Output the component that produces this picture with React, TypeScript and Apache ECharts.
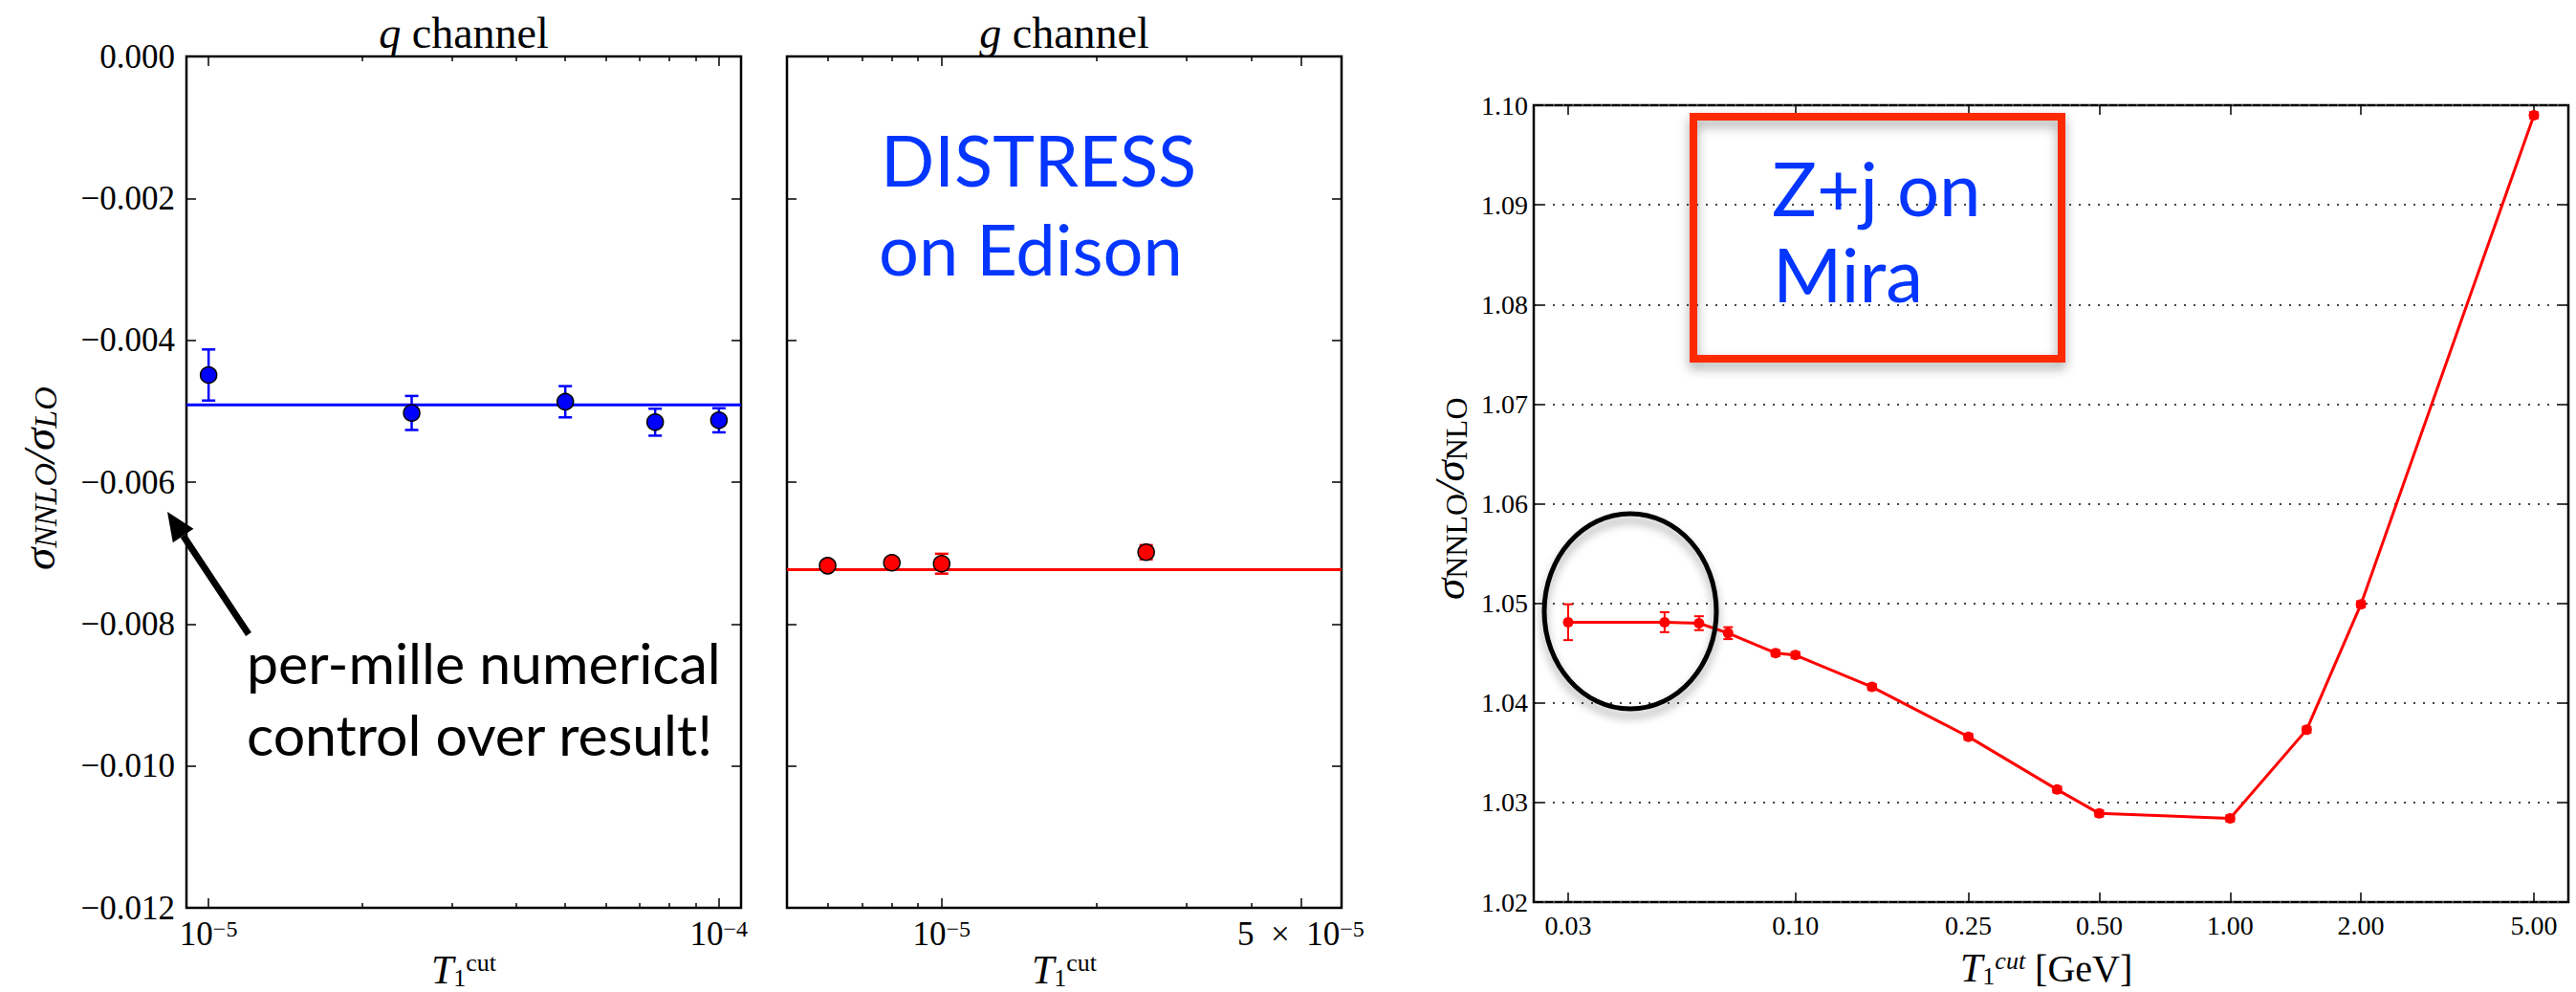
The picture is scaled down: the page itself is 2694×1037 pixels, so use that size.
import React, { useEffect, useRef } from "react";
import * as echarts from "echarts";

// ---------------- data ----------------
// q channel (DISTRESS)
const qCut = [1e-5, 2.5e-5, 5e-5, 7.5e-5, 1e-4];
const qRatio = [-0.00449, -0.005025, -0.004867, -0.005155, -0.005128];
const qError = [0.00036, 0.00024, 0.00022, 0.00019, 0.00017];
const qFit = -0.004912;

// g channel (DISTRESS)
const gCut = [6e-6, 8e-6, 1e-5, 2.5e-5];
const gRatio = [-0.007178, -0.007136, -0.00715, -0.006988];
const gError = [0.00003, 0.00004, 0.00014, 0.0001];
const gFit = -0.007233;

// Z+j on Mira
const zjCut = [0.03, 0.05, 0.06, 0.07, 0.09, 0.1, 0.15, 0.25, 0.4, 0.5, 1.0, 1.5, 2.0, 5.0];
const zjRatio = [1.0481, 1.0481, 1.048, 1.047, 1.045, 1.0448, 1.0416, 1.0366, 1.0313, 1.0289, 1.0284, 1.0373, 1.0499, 1.099];
const zjError = [0.0018, 0.001, 0.0007, 0.0006, 0.0003, 0.0003, 0.0003, 0.0003, 0.0003, 0.0003, 0.0003, 0.0003, 0.0003, 0.0003];

// ticks and ranges
const qXTicks = [1e-5, 1e-4];
const qXMinor = [2e-5, 3e-5, 4e-5, 5e-5, 6e-5, 7e-5, 8e-5, 9e-5];
const gXTicks = [1e-5, 5e-5];
const gXMinor = [6e-6, 7e-6, 8e-6, 9e-6, 2e-5, 3e-5, 4e-5];
const zjXTicks = [0.03, 0.1, 0.25, 0.5, 1, 2, 5];

const qXRange = [9.05e-6, 1.105e-4];
const gXRange = [5e-6, 6e-5];
const zjXRange = [0.025, 6];
const chYRange = [-0.012, 0];
const chYStep = 0.002;
const zjYRange = [1.02, 1.1];
const zjYStep = 0.01;

const L = (v: number) => Math.log10(v);
const SERIF = "'Liberation Serif', 'Times New Roman', serif";
const SANS = "Lato, 'Open Sans', sans-serif";
const BLUE_TXT = "#0436ff";

const supRich = {
  b: { fontSize: 35, fontFamily: SERIF, color: "#000" },
  s: { fontSize: 24, fontFamily: SERIF, color: "#000", verticalAlign: "top" },
};

const powLabel = (v: number) => {
  const exp = Math.floor(v + 1e-9);
  const mant = Math.round(Math.pow(10, v - exp));
  const e = "\u2212" + String(-exp);
  return mant === 1 ? `{b|10}{s|${e}}` : `{b|${mant}\u2002\u00d7\u200210}{s|${e}}`;
};

const tauName = "{t|T}{sub|1}{sup|cut}";
const tauRich = {
  t: { fontSize: 42, fontStyle: "italic", fontFamily: SERIF, color: "#000", fill: "#000" },
  sub: { fontSize: 26, fontFamily: SERIF, color: "#000", fill: "#000", verticalAlign: "bottom" },
  sup: { fontSize: 26, fontFamily: SERIF, color: "#000", fill: "#000", verticalAlign: "top" },
  it: { fontSize: 26, fontStyle: "italic", fontFamily: SERIF, color: "#000", fill: "#000", verticalAlign: "top" },
  g: { fontSize: 40, fontFamily: SERIF, color: "#000", fill: "#000" },
};

function xAxisDef(
  gridIndex: number,
  range: number[],
  position: string,
  ticks: number[],
  tickLen: number,
  labels?: { formatter: (v: number) => string; rich: any; size?: number; margin?: number },
  name?: { text: string; gap: number; rich: any }
) {
  return {
    type: "value",
    gridIndex,
    position,
    min: L(range[0]),
    max: L(range[1]),
    axisLine: { show: false, onZero: false },
    splitLine: { show: false },
    axisTick: {
      show: true,
      inside: true,
      length: tickLen,
      customValues: ticks.map(L),
      lineStyle: { color: "#000", width: 1.5 },
    },
    axisLabel: labels
      ? {
          show: true,
          customValues: ticks.map(L),
          formatter: labels.formatter,
          rich: labels.rich,
          margin: labels.margin || 10,
          color: "#000",
          fontFamily: SERIF,
          fontSize: labels.size || 35,
        }
      : { show: false },
    name: name ? name.text : "",
    nameLocation: "middle",
    nameGap: name ? name.gap : 0,
    nameMoveOverlap: false,
    nameTextStyle: name ? { rich: name.rich, color: "#000" } : {},
  };
}

function yAxisDef(
  gridIndex: number,
  range: number[],
  step: number,
  position: string,
  opts: { labels?: (v: number) => string; size?: number; split?: boolean; margin?: number }
) {
  return {
    type: "value",
    gridIndex,
    position,
    min: range[0],
    max: range[1],
    interval: step,
    axisLine: { show: false, onZero: false },
    axisTick: { show: true, inside: true, length: 10, lineStyle: { color: "#000", width: 1.5 } },
    splitLine: opts.split
      ? { show: true, lineStyle: { color: "#444", width: 2, type: [2, 8] } }
      : { show: false },
    axisLabel: opts.labels
      ? {
          show: true,
          formatter: opts.labels,
          color: "#000",
          fontFamily: SERIF,
          fontSize: opts.size || 35,
          margin: opts.margin || 12,
        }
      : { show: false },
  };
}

const errRender = (color: string, half: number, width: number) => (params: any, api: any) => {
  const x = api.value(0);
  const y = api.value(1);
  const e = api.value(2);
  const top = api.coord([x, y + e]);
  const bot = api.coord([x, y - e]);
  const st = { stroke: color, lineWidth: width };
  return {
    type: "group",
    children: [
      { type: "line", shape: { x1: top[0], y1: top[1], x2: bot[0], y2: bot[1] }, style: st },
      { type: "line", shape: { x1: top[0] - half, y1: top[1], x2: top[0] + half, y2: top[1] }, style: st },
      { type: "line", shape: { x1: bot[0] - half, y1: bot[1], x2: bot[0] + half, y2: bot[1] }, style: st },
    ],
  };
};

const sigmaRich = (italicSub: boolean, big: number, small: number) => ({
  s: { fontSize: big, fontStyle: "italic", fontFamily: SERIF, fill: "#000" },
  sub: {
    fontSize: small,
    fontStyle: italicSub ? "italic" : "normal",
    fontFamily: SERIF,
    fill: "#000",
    verticalAlign: "bottom",
  },
});

const fitLine = (xAxisIndex: number, yAxisIndex: number, range: number[], value: number, color: string) => ({
  type: "line",
  xAxisIndex,
  yAxisIndex,
  z: 2,
  symbol: "none",
  silent: true,
  lineStyle: { color, width: 3 },
  data: [
    [L(range[0]), value],
    [L(range[1]), value],
  ],
});

function buildOption() {
  const gridBase = {
    show: true,
    borderColor: "#000",
    borderWidth: 2.5,
    backgroundColor: "transparent",
    containLabel: false,
    outerBoundsMode: "none",
  };
  const chLabel = (v: number) => {
    const s = Math.abs(v).toFixed(3);
    return v < -1e-12 ? "\u2212" + s : s;
  };

  const arrowTip = [175, 535];
  const arrowTail = [260, 663];
  const dx = arrowTip[0] - arrowTail[0];
  const dy = arrowTip[1] - arrowTail[1];
  const len = Math.sqrt(dx * dx + dy * dy);
  const ux = dx / len;
  const uy = dy / len;
  const headLen = 30;
  const headHalf = 13;
  const bx = arrowTip[0] - headLen * ux;
  const by = arrowTip[1] - headLen * uy;

  const title = (x: number, letter: string) => ({
    type: "text",
    x,
    y: 57,
    z: 100,
    style: {
      text: `{i|${letter}}{r|\u00a0channel}`,
      align: "center",
      verticalAlign: "bottom",
      textAlign: "center",
      textVerticalAlign: "bottom",
      rich: {
        i: { fontSize: 46, fontStyle: "italic", fontFamily: SERIF, fill: "#000" },
        r: { fontSize: 46, fontFamily: SERIF, fill: "#000" },
      },
    },
  });

  const blueText = (x: number, y: number, text: string, size: number) => ({
    type: "text",
    x,
    y,
    z: 101,
    style: { text, fill: BLUE_TXT, fontSize: size, fontFamily: SANS, align: "left", verticalAlign: "middle", textAlign: "left", textVerticalAlign: "middle" },
  });

  const yName = (x: number, yStart: number, text: string, rich: any) => ({
    type: "text",
    x,
    y: yStart,
    rotation: Math.PI / 2,
    z: 100,
    style: { text, rich, align: "left", verticalAlign: "middle", textAlign: "left", textVerticalAlign: "middle" },
  });

  return {
    animation: false,
    backgroundColor: "#fff",
    textStyle: { fontFamily: SERIF },
    grid: [
      { ...gridBase, left: 195, top: 59, width: 580, height: 890 },
      { ...gridBase, left: 823, top: 59, width: 580, height: 890 },
      { ...gridBase, left: 1604, top: 110, width: 1082, height: 833 },
    ],
    xAxis: [
      xAxisDef(0, qXRange, "bottom", qXTicks, 10, { formatter: powLabel, rich: supRich }, { text: tauName, gap: 44, rich: tauRich }),
      xAxisDef(0, qXRange, "top", qXTicks, 10),
      xAxisDef(0, qXRange, "bottom", qXMinor, 5),
      xAxisDef(0, qXRange, "top", qXMinor, 5),
      xAxisDef(1, gXRange, "bottom", gXTicks, 10, { formatter: powLabel, rich: supRich }, { text: tauName, gap: 44, rich: tauRich }),
      xAxisDef(1, gXRange, "top", gXTicks, 10),
      xAxisDef(1, gXRange, "bottom", gXMinor, 5),
      xAxisDef(1, gXRange, "top", gXMinor, 5),
      xAxisDef(2, zjXRange, "bottom", zjXTicks, 10, {
        formatter: (v: number) => Math.pow(10, v).toFixed(2),
        rich: {},
        size: 28,
        margin: 10,
      }),
      xAxisDef(2, zjXRange, "top", zjXTicks, 10),
    ],
    yAxis: [
      yAxisDef(0, chYRange, chYStep, "left", { labels: chLabel, size: 35, margin: 12 }),
      yAxisDef(0, chYRange, chYStep, "right", {}),
      yAxisDef(1, chYRange, chYStep, "left", {}),
      yAxisDef(1, chYRange, chYStep, "right", {}),
      yAxisDef(2, zjYRange, zjYStep, "left", {
        labels: (v: number) => v.toFixed(2),
        size: 28,
        margin: 6,
        split: true,
      }),
      yAxisDef(2, zjYRange, zjYStep, "right", {}),
    ],
    series: [
      fitLine(0, 0, qXRange, qFit, "#0000ff"),
      {
        type: "custom",
        name: "q errors",
        xAxisIndex: 0,
        yAxisIndex: 0,
        z: 3,
        encode: { x: 0, y: 1 },
        renderItem: errRender("#0000ff", 7, 2.5),
        data: qCut.map((c, i) => [L(c), qRatio[i], qError[i]]),
      },
      {
        type: "scatter",
        name: "q channel",
        xAxisIndex: 0,
        yAxisIndex: 0,
        z: 4,
        symbol: "circle",
        symbolSize: 17,
        itemStyle: { color: "#0000ff", borderColor: "#000", borderWidth: 1.5, opacity: 1 },
        data: qCut.map((c, i) => [L(c), qRatio[i]]),
      },
      fitLine(4, 2, gXRange, gFit, "#ff0000"),
      {
        type: "custom",
        name: "g errors",
        xAxisIndex: 4,
        yAxisIndex: 2,
        z: 3,
        encode: { x: 0, y: 1 },
        renderItem: errRender("#ff0000", 7, 2.5),
        data: gCut.map((c, i) => [L(c), gRatio[i], gError[i]]),
      },
      {
        type: "scatter",
        name: "g channel",
        xAxisIndex: 4,
        yAxisIndex: 2,
        z: 4,
        symbol: "circle",
        symbolSize: 17,
        itemStyle: { color: "#ff0000", borderColor: "#000", borderWidth: 1.5, opacity: 1 },
        data: gCut.map((c, i) => [L(c), gRatio[i]]),
      },
      {
        type: "custom",
        name: "Z+j errors",
        xAxisIndex: 8,
        yAxisIndex: 4,
        z: 3,
        encode: { x: 0, y: 1 },
        renderItem: errRender("#ff0000", 5, 2),
        data: zjCut.map((c, i) => [L(c), zjRatio[i], zjError[i]]),
      },
      {
        type: "line",
        name: "Z+j",
        xAxisIndex: 8,
        yAxisIndex: 4,
        z: 4,
        symbol: "circle",
        symbolSize: 11,
        showSymbol: true,
        lineStyle: { color: "#ff0000", width: 3 },
        itemStyle: { color: "#ff0000" },
        data: zjCut.map((c, i) => [L(c), zjRatio[i]]),
      },
    ],
    graphic: [
      title(485, "q"),
      title(1113, "g"),
      yName(41, 596, "{s|\u03c3}{sub|NNLO}{s|/\u03c3}{sub|LO}", sigmaRich(true, 47, 34)),
      yName(1516, 627, "{s|\u03c3}{sub|NNLO}{s|/\u03c3}{sub|NLO}", sigmaRich(false, 45, 32)),
      {
        type: "text",
        x: 2050,
        y: 991,
        z: 100,
        style: {
          text: "{t|T}{sub|1}{it|cut}{g|\u00a0[GeV]}",
          rich: tauRich,
          align: "left",
          verticalAlign: "top",
          textAlign: "left",
          textVerticalAlign: "top",
        },
      },
      blueText(921, 166, "DISTRESS", 74),
      blueText(919, 259, "on Edison", 74),
      {
        type: "text",
        x: 258,
        y: 692,
        z: 100,
        style: { text: "per-mille numerical", fill: "#000", fontSize: 59, fontFamily: SANS, align: "left", verticalAlign: "middle", textAlign: "left", textVerticalAlign: "middle" },
      },
      {
        type: "text",
        x: 258,
        y: 767,
        z: 100,
        style: { text: "control over result!", fill: "#000", fontSize: 59, fontFamily: SANS, align: "left", verticalAlign: "middle", textAlign: "left", textVerticalAlign: "middle" },
      },
      {
        type: "line",
        z: 100,
        shape: { x1: arrowTail[0], y1: arrowTail[1], x2: bx, y2: by },
        style: { stroke: "#000", lineWidth: 7 },
      },
      {
        type: "polygon",
        z: 100,
        shape: {
          points: [
            [arrowTip[0], arrowTip[1]],
            [bx - headHalf * uy, by + headHalf * ux],
            [bx + headHalf * uy, by - headHalf * ux],
          ],
        },
        style: { fill: "#000" },
      },
      {
        type: "rect",
        z: 100,
        shape: { x: 1771, y: 122, width: 385, height: 253 },
        style: {
          fill: "transparent",
          stroke: "#ff2a00",
          lineWidth: 8,
          shadowBlur: 12,
          shadowOffsetY: 6,
          shadowColor: "rgba(0,0,0,0.35)",
        },
      },
      blueText(1853, 196, "Z+j on", 78),
      blueText(1854, 286, "Mira", 78),
      {
        type: "ellipse",
        z: 100,
        shape: { cx: 1705, cy: 639, rx: 90, ry: 102 },
        style: {
          fill: "transparent",
          stroke: "#000",
          lineWidth: 5,
          shadowBlur: 10,
          shadowOffsetY: 7,
          shadowColor: "rgba(0,0,0,0.35)",
        },
      },
    ],
  };
}

export default function App() {
  const ref = useRef<HTMLDivElement>(null);
  useEffect(() => {
    document.body.style.margin = "0";
    if (!ref.current) return;
    const chart = echarts.init(ref.current, undefined, { renderer: "svg" });
    chart.setOption(buildOption() as any);
    return () => chart.dispose();
  }, []);
  return <div ref={ref} style={{ width: 2694, height: 1037, background: "#fff" }} />;
}
